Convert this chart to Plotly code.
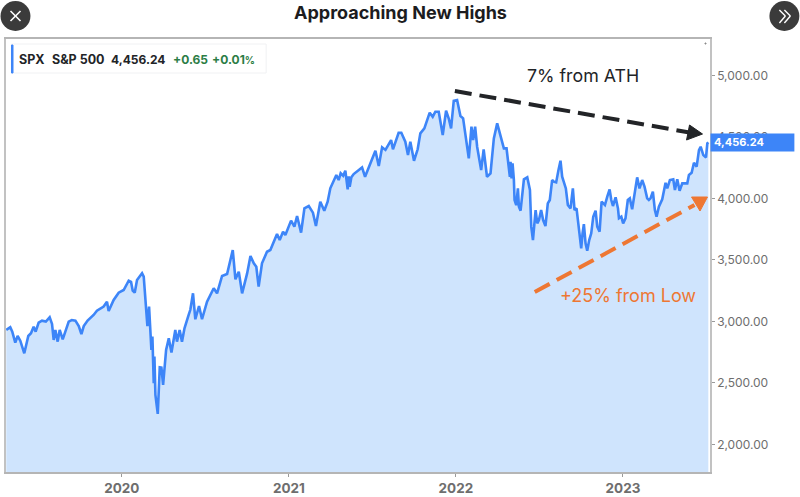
import plotly.graph_objects as go

TITLE = "Approaching New Highs"
YEAR_TICKS = [2020, 2021, 2022, 2023]
PRICE_TICKS = [2000, 2500, 3000, 3500, 4000, 4500, 5000]
LAST_PRICE = 4456.24

years = [
    2019.308, 2019.332, 2019.344, 2019.362, 2019.376, 2019.392, 2019.416, 2019.440, 2019.456, 2019.472,
    2019.484, 2019.502, 2019.522, 2019.545, 2019.568, 2019.582, 2019.592, 2019.602, 2019.616, 2019.628,
    2019.646, 2019.666, 2019.682, 2019.700, 2019.722, 2019.742, 2019.758, 2019.772, 2019.795, 2019.831,
    2019.851, 2019.891, 2019.911, 2019.921, 2019.951, 2019.981, 2020.011, 2020.041, 2020.055, 2020.065,
    2020.077, 2020.091, 2020.121, 2020.131, 2020.145, 2020.153, 2020.163, 2020.171, 2020.177, 2020.183,
    2020.191, 2020.195, 2020.201, 2020.215, 2020.227, 2020.237, 2020.247, 2020.265, 2020.281, 2020.297,
    2020.320, 2020.330, 2020.346, 2020.360, 2020.375, 2020.400, 2020.410, 2020.426, 2020.440, 2020.462,
    2020.480, 2020.510, 2020.550, 2020.570, 2020.600, 2020.630, 2020.664, 2020.680, 2020.700, 2020.720,
    2020.750, 2020.770, 2020.790, 2020.805, 2020.819, 2020.839, 2020.869, 2020.889, 2020.929, 2020.945,
    2020.965, 2020.979, 2021.013, 2021.033, 2021.049, 2021.073, 2021.093, 2021.119, 2021.144, 2021.162,
    2021.188, 2021.212, 2021.232, 2021.248, 2021.272, 2021.284, 2021.298, 2021.310, 2021.325, 2021.338,
    2021.352, 2021.358, 2021.364, 2021.374, 2021.388, 2021.415, 2021.438, 2021.456, 2021.492, 2021.518,
    2021.538, 2021.558, 2021.578, 2021.612, 2021.623, 2021.657, 2021.673, 2021.697, 2021.713, 2021.727,
    2021.749, 2021.771, 2021.787, 2021.811, 2021.843, 2021.861, 2021.877, 2021.897, 2021.921, 2021.941,
    2021.957, 2021.971, 2021.987, 2022.007, 2022.027, 2022.043, 2022.077, 2022.093, 2022.103, 2022.115,
    2022.127, 2022.151, 2022.166, 2022.186, 2022.207, 2022.227, 2022.247, 2022.267, 2022.287, 2022.303,
    2022.323, 2022.327, 2022.333, 2022.339, 2022.347, 2022.351, 2022.361, 2022.371, 2022.377, 2022.387,
    2022.397, 2022.407, 2022.427, 2022.443, 2022.451, 2022.461, 2022.469, 2022.477, 2022.487, 2022.497,
    2022.510, 2022.522, 2022.536, 2022.550, 2022.562, 2022.576, 2022.586, 2022.600, 2022.614, 2022.626,
    2022.636, 2022.646, 2022.658, 2022.670, 2022.686, 2022.700, 2022.710, 2022.722, 2022.732, 2022.742,
    2022.750, 2022.758, 2022.766, 2022.776, 2022.786, 2022.798, 2022.810, 2022.822, 2022.836, 2022.846,
    2022.860, 2022.872, 2022.892, 2022.906, 2022.920, 2022.930, 2022.940, 2022.956, 2022.970, 2022.976,
    2022.990, 2023.001, 2023.015, 2023.029, 2023.041, 2023.055, 2023.065, 2023.085, 2023.099, 2023.115,
    2023.129, 2023.145, 2023.155, 2023.165, 2023.179, 2023.191, 2023.201, 2023.215, 2023.235, 2023.255,
    2023.265, 2023.281, 2023.301, 2023.311, 2023.325, 2023.339, 2023.355, 2023.385, 2023.395, 2023.411,
    2023.425, 2023.441, 2023.455, 2023.465, 2023.481, 2023.497, 2023.505, 2023.511,
]
closes = [
    2931, 2953, 2917, 2828, 2882, 2844, 2741, 2882, 2904, 2958,
    2917, 2991, 3007, 2999, 3034, 2980, 2850, 2931, 2836, 2931,
    2855, 2931, 2999, 3012, 3007, 2963, 2898, 2963, 3007, 3053,
    3088, 3121, 3161, 3085, 3175, 3234, 3256, 3332, 3322, 3251,
    3234, 3337, 3392, 3365, 3121, 2963, 3121, 2958, 2768, 2877,
    2497, 2714, 2402, 2248, 2627, 2625, 2484, 2768, 2863, 2747,
    2931, 2836, 2931, 2836, 2945, 3053, 3095, 3229, 3018, 3126,
    3018, 3161, 3270, 3229, 3370, 3386, 3581, 3343, 3405, 3229,
    3391, 3532, 3473, 3445, 3283, 3473, 3567, 3581, 3711, 3663,
    3730, 3703, 3820, 3771, 3858, 3722, 3920, 3939, 3885, 3776,
    3974, 3901, 3974, 4083, 4164, 4191, 4150, 4205, 4185, 4226,
    4074, 4180, 4095, 4172, 4199, 4225, 4253, 4177, 4307, 4389,
    4264, 4416, 4395, 4475, 4400, 4535, 4535, 4462, 4354, 4462,
    4307, 4400, 4530, 4570, 4698, 4665, 4706, 4706, 4516, 4714,
    4650, 4570, 4795, 4801, 4671, 4652, 4326, 4584, 4475, 4584,
    4421, 4232, 4400, 4177, 4204, 4489, 4611, 4516, 4408, 4408,
    4177, 4299, 4164, 4286, 4150, 3988, 3947, 4082, 3933, 3901,
    4015, 4156, 4172, 4069, 3771, 3662, 3784, 3906, 3798, 3825,
    3906, 3825, 3776, 3960, 3988, 4150, 4137, 4131, 4232, 4307,
    4177, 4123, 4082, 3947, 3920, 4082, 3906, 3920, 3798, 3690,
    3595, 3717, 3792, 3635, 3576, 3662, 3717, 3852, 3901, 3771,
    3730, 3974, 3947, 4015, 4074, 3988, 3939, 4009, 3920, 3839,
    3852, 3798, 3839, 3988, 4001, 3912, 4001, 4172, 4082, 4150,
    4096, 4001, 3988, 4001, 4055, 3906, 3852, 3933, 3993, 4128,
    4082, 4150, 4156, 4069, 4156, 4063, 4123, 4123, 4191, 4210,
    4291, 4259, 4394, 4421, 4353, 4334, 4448, LAST_PRICE,
]

W, H = 800, 497
LEFT, RIGHT, TOP, BOTTOM = 5.5, 710.5, 39.0, 472.0
X_RANGE = [2019.3065, 2023.521]
Y_RANGE = [1776, 5297]

INK = "#222427"
BLUE = "#3d85f8"
ORANGE = "#ee7733"
GREEN = "#2b7d45"
BUTTON = "#3b3b3b"
AXIS_TEXT = "#6e6e6e"


def px(x):
    return (x - LEFT) / (RIGHT - LEFT)


def py(y):
    return (BOTTOM - y) / (BOTTOM - TOP)


def line(x0, y0, x1, y1, color, width, dash="solid"):
    return dict(type="line", xref="paper", yref="paper", x0=px(x0), y0=py(y0), x1=px(x1), y1=py(y1),
                line=dict(color=color, width=width, dash=dash), layer="above")


def rect(x0, y0, x1, y1, fill, border=None):
    return dict(type="rect", xref="paper", yref="paper", x0=px(x0), y0=py(y0), x1=px(x1), y1=py(y1),
                fillcolor=fill, line=dict(color=border or fill, width=1), layer="above")


def circle(cx, cy, r, fill):
    return dict(type="circle", xref="paper", yref="paper", x0=px(cx - r), y0=py(cy + r), x1=px(cx + r), y1=py(cy - r),
                fillcolor=fill, line=dict(width=0), layer="above")


def triangle(points, fill):
    # Filled arrowhead given as three corner positions in page pixels.
    return [dict(type="path", xref="paper", yref="paper",
                 path="M {} {} L {} {} L {} {} Z".format(*[v for p in points for v in (px(p[0]), py(p[1]))]),
                 fillcolor=fill, line=dict(color=fill, width=1), layer="above")]


def text(x, y, s, size, color, anchor="left", family="Inter", weight=None):
    t = f"<b>{s}</b>" if weight == "bold" else s
    return dict(xref="paper", yref="paper", x=px(x), y=py(y), text=t, showarrow=False, xanchor=anchor,
                yanchor="middle", font=dict(size=size, color=color, family=family))


shapes = [
    # Last-price tag sits over the 4,500 axis label, so only its top edge shows.
    dict(type="rect", xref="paper", yref="y", x0=px(711), x1=px(795), y0=LAST_PRICE - 75, y1=LAST_PRICE + 73,
         fillcolor=BLUE, line=dict(width=0), layer="above"),
    # Ticker legend box
    rect(11, 44, 266, 73, "#ffffff", "#f0f1f3"),
    rect(11, 45, 12.5, 73, BLUE),
    # Close and next-page buttons
    circle(15, 16, 15, BUTTON),
    line(10, 11, 20, 21, "#ffffff", 1.6),
    line(20, 11, 10, 21, "#ffffff", 1.6),
    circle(785, 16, 15, BUTTON),
    line(780, 10, 786, 16, "#ffffff", 1.4), line(786, 16, 780, 23, "#ffffff", 1.4),
    line(785, 10, 791, 16, "#ffffff", 1.4), line(791, 16, 785, 23, "#ffffff", 1.4),
    # Trend arrows
    line(455, 91, 690, 132.5, INK, 4, "17px,8px"),
    line(535, 292, 695, 205, ORANGE, 4, "17px,8px"),
    rect(705.5, 43, 706.5, 44, "#8a8a8a"),
]
shapes += triangle([(703, 134), (690, 125), (687, 140)], INK)
shapes += triangle([(692, 197), (708, 197), (700.5, 211)], ORANGE)

annotations = [
    text(400.5, 12, TITLE, 18, "#1c1c1e", "center", weight="bold"),
    text(17, 59.5, "SPX", 12.5, INK, weight="bold"),
    text(50, 59.5, "S&P 500", 12.5, INK, weight="bold"),
    text(109, 59.5, "4,456.24", 12, INK, weight="bold"),
    text(170.5, 59.5, "+0.65", 12, GREEN, weight="bold"),
    text(209.5, 59.5, "+0.01<span style='font-size:10px'>%</span>", 12, GREEN, weight="bold"),
    text(525, 75, "7% from ATH", 17.8, INK),
    text(558, 295, "+25% from Low", 18, ORANGE),
    dict(xref="paper", yref="y", x=px(713), y=LAST_PRICE, text="<b>4,456.24</b>", showarrow=False,
         xanchor="left", yanchor="middle", font=dict(size=11, color="#ffffff", family="Inter")),
]

fig = go.Figure(go.Scatter(
    x=years, y=closes, mode="lines", fill="tozeroy", fillcolor="#cfe4fd",
    line=dict(color=BLUE, width=2.6), hoverinfo="skip", showlegend=False,
))

fig.update_layout(
    width=W, height=H, autosize=False,
    margin=dict(l=LEFT, r=W - RIGHT, t=TOP, b=H - BOTTOM, pad=0),
    paper_bgcolor="#ffffff", plot_bgcolor="#ffffff",
    shapes=shapes, annotations=annotations,
    xaxis=dict(range=X_RANGE, automargin=False, tickmode="array", tickvals=YEAR_TICKS,
               ticktext=[f"<b>{v}</b>" for v in YEAR_TICKS],
               showgrid=False, zeroline=False, showline=True, mirror=True, linecolor="#b5b5b5", linewidth=1.5,
               ticks="outside", ticklen=3, tickwidth=1, tickcolor="#9a9a9a",
               tickfont=dict(size=13.5, color=AXIS_TEXT, family="Inter")),
    yaxis=dict(range=Y_RANGE, automargin=False, side="right", tickmode="array", tickvals=PRICE_TICKS,
               ticktext=[f"{v:,.2f}" for v in PRICE_TICKS],
               showgrid=False, zeroline=False, showline=True, mirror=True, linecolor="#c2c2c2", linewidth=1.5,
               ticks="outside", ticklen=3, tickwidth=1, tickcolor="#9a9a9a",
               tickfont=dict(size=12, color=AXIS_TEXT, family="Inter")),
)

fig.write_html("out.html")
